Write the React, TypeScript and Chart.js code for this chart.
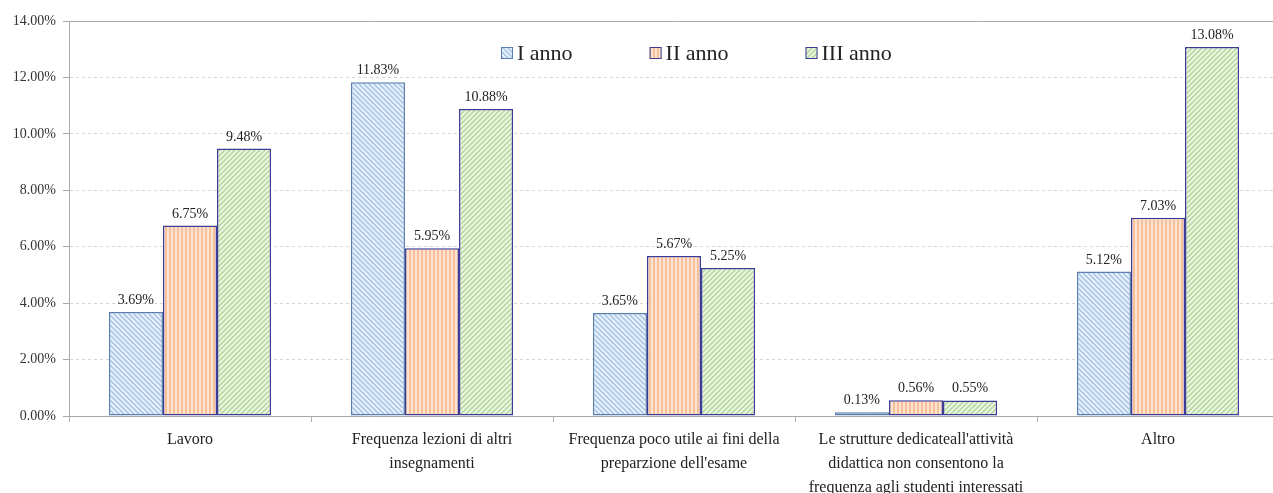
import React, { useEffect, useRef } from 'react';
import { Chart, registerables } from 'chart.js';

Chart.register(...registerables);

const categories: (string | string[])[] = [
  'Lavoro',
  ['Frequenza lezioni di altri', 'insegnamenti'],
  ['Frequenza poco utile ai fini della', "preparzione dell'esame"],
  ["Le strutture dedicateall'attività", 'didattica non consentono la', 'frequenza agli studenti interessati'],
  'Altro',
];
const seriesNames = ['I anno', 'II anno', 'III anno'];
const anno1 = [3.69, 11.83, 3.65, 0.13, 5.12];
const anno2 = [6.75, 5.95, 5.67, 0.56, 7.03];
const anno3 = [9.48, 10.88, 5.25, 0.55, 13.08];
const yMin = 0;
const yMax = 14;
const yStep = 2;

const FONT = '"Liberation Serif", "Times New Roman", serif';

function makePattern(kind: 'back' | 'vert' | 'fwd', bg: string, fg: string): CanvasPattern | string {
  const s = kind === 'vert' ? 4 : 5;
  const c = document.createElement('canvas');
  c.width = s;
  c.height = s;
  const g = c.getContext('2d');
  if (!g) return bg;
  g.fillStyle = bg;
  g.fillRect(0, 0, s, s);
  g.strokeStyle = fg;
  g.lineWidth = 1.6;
  g.beginPath();
  if (kind === 'vert') {
    g.fillStyle = fg;
    g.fillRect(1, 0, 2, s);
  } else if (kind === 'back') {
    for (let k = -1; k <= 1; k++) {
      g.moveTo(k * s - 1, -1);
      g.lineTo(k * s + s + 1, s + 1);
    }
    g.stroke();
  } else {
    for (let k = 0; k <= 2; k++) {
      g.moveTo(k * s + 1, -1);
      g.lineTo(k * s - s - 1, s + 1);
    }
    g.stroke();
  }
  const p = g.createPattern(c, 'repeat');
  return p || bg;
}

const valueLabels = {
  id: 'valueLabels',
  afterDatasetsDraw(chart: any) {
    const ctx = chart.ctx;
    ctx.save();
    ctx.font = `14px ${FONT}`;
    ctx.fillStyle = '#222';
    ctx.textAlign = 'center';
    ctx.textBaseline = 'alphabetic';
    chart.data.datasets.forEach((ds: any, i: number) => {
      const meta = chart.getDatasetMeta(i);
      meta.data.forEach((el: any, j: number) => {
        const v = ds.data[j] as number;
        ctx.fillText(v.toFixed(2) + '%', el.x, el.y - 8);
      });
    });
    ctx.restore();
  },
};

const customLegend = {
  id: 'customLegend',
  afterDraw(chart: any) {
    const ctx = chart.ctx;
    ctx.save();
    ctx.font = `22px ${FONT}`;
    ctx.textBaseline = 'middle';
    ctx.textAlign = 'left';
    let x = chart.chartArea.left + 432;
    const y = chart.chartArea.top + 32;
    chart.data.datasets.forEach((ds: any) => {
      ctx.fillStyle = ds.backgroundColor;
      ctx.fillRect(x, y - 6, 12, 12);
      ctx.strokeStyle = ds.borderColor;
      ctx.lineWidth = 1;
      ctx.strokeRect(x + 0.5, y - 5.5, 11, 11);
      ctx.fillStyle = '#222';
      ctx.fillText(ds.label, x + 16, y + 1);
      x += 16 + ctx.measureText(ds.label).width + 77;
    });
    ctx.restore();
  },
};

export default function App() {
  const ref = useRef<HTMLCanvasElement | null>(null);

  useEffect(() => {
    if (!ref.current) return;
    const p1 = makePattern('back', '#edf3fb', '#a9c7e6');
    const p2 = makePattern('vert', '#fde4d1', '#f5c09a');
    const p3 = makePattern('fwd', '#eff7e9', '#b6d99d');

    const chart = new Chart(ref.current, {
      type: 'bar',
      data: {
        labels: categories,
        datasets: [
          { label: seriesNames[0], data: anno1, backgroundColor: p1 as any, borderColor: '#5a7eae', borderWidth: 1.5, borderSkipped: false },
          { label: seriesNames[1], data: anno2, backgroundColor: p2 as any, borderColor: '#3c3c96', borderWidth: 1.5, borderSkipped: false },
          { label: seriesNames[2], data: anno3, backgroundColor: p3 as any, borderColor: '#3c3c96', borderWidth: 1.5, borderSkipped: false },
        ],
      },
      options: {
        animation: false,
        responsive: true,
        maintainAspectRatio: false,
        layout: { padding: { left: 0, right: 11, top: 21, bottom: 0 } },
        datasets: { bar: { categoryPercentage: 0.67, barPercentage: 1 } },
        plugins: {
          legend: { display: false },
          tooltip: { enabled: false },
          title: { display: false },
        },
        scales: {
          x: {
            afterFit: (scale: any) => { scale.height = 77; },
            grid: {
              display: true,
              drawOnChartArea: false,
              drawTicks: true,
              tickLength: 6,
              color: '#b0b0b0',
              offset: true,
            },
            border: { display: true, color: '#a8a8a8', width: 1 },
            ticks: {
              autoSkip: false,
              maxRotation: 0,
              minRotation: 0,
              padding: 6,
              color: '#222',
              font: { family: FONT, size: 16, lineHeight: 1.5 },
            },
          },
          y: {
            min: yMin,
            max: yMax,
            afterFit: (scale: any) => { scale.width = 69; },
            grid: {
              display: true,
              drawTicks: true,
              tickLength: 6,
              color: (c: any) => (c.tick && c.tick.value === yMax ? '#a5ad9f' : '#d6d6d6'),
              tickColor: '#a8a8a8',
            },
            border: {
              display: true,
              color: '#a5ad9f',
              width: 1,
              dash: (c: any) => (c.tick && c.tick.value === yMax ? [] : [3, 3]),
            } as any,
            ticks: {
              stepSize: yStep,
              padding: 7,
              color: '#333',
              font: { family: FONT, size: 14 },
              callback: (v: any) => Number(v).toFixed(2) + '%',
            },
          },
        },
      },
      plugins: [valueLabels, customLegend],
    });
    return () => chart.destroy();
  }, []);

  return (
    <div style={{ position: 'fixed', left: 0, top: 0, width: 1273, height: 493, overflow: 'hidden', background: '#fff' }}>
      <div style={{ position: 'relative', width: 1290, height: 493 }}>
        <canvas ref={ref} />
      </div>
    </div>
  );
}
